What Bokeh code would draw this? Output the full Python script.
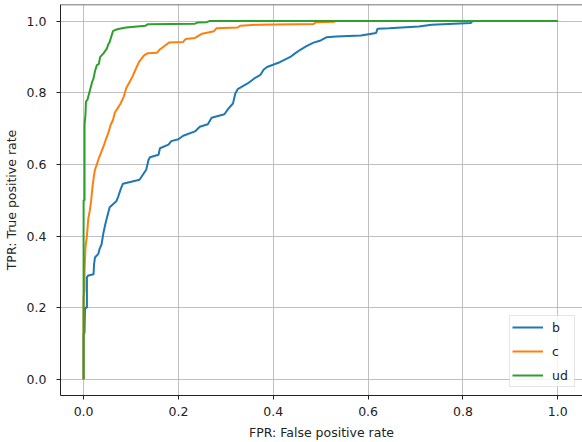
from bokeh.plotting import figure
from bokeh.models import Range1d, FixedTicker, NumeralTickFormatter, Span
from bokeh.embed import file_html
from bokeh.resources import INLINE

# ROC curve points
fpr_b = [0, 0, 0.002, 0.003, 0.007, 0.007, 0.010, 0.021, 0.022, 0.024, 0.031, 0.034, 0.038,
         0.042, 0.047, 0.052, 0.055, 0.069, 0.073, 0.078, 0.083, 0.118, 0.125, 0.132, 0.137,
         0.140, 0.158, 0.161, 0.179, 0.185, 0.200, 0.210, 0.235, 0.245, 0.262, 0.270, 0.297,
         0.305, 0.315, 0.320, 0.325, 0.346, 0.360, 0.373, 0.380, 0.387, 0.415, 0.436, 0.446,
         0.457, 0.470, 0.485, 0.500, 0.513, 0.533, 0.585, 0.617, 0.620, 0.644, 0.707, 0.734,
         0.817, 0.820, 1.0]
tpr_b = [0, 0.127, 0.130, 0.200, 0.200, 0.285, 0.290, 0.293, 0.320, 0.340, 0.350, 0.365, 0.377,
         0.410, 0.440, 0.465, 0.480, 0.497, 0.510, 0.530, 0.546, 0.557, 0.571, 0.585, 0.613,
         0.620, 0.627, 0.645, 0.655, 0.665, 0.670, 0.680, 0.692, 0.705, 0.712, 0.730, 0.740,
         0.755, 0.770, 0.798, 0.810, 0.826, 0.840, 0.850, 0.865, 0.872, 0.886, 0.900, 0.910,
         0.920, 0.930, 0.940, 0.946, 0.955, 0.957, 0.960, 0.967, 0.979, 0.980, 0.985, 0.990,
         0.995, 1.0, 1.0]

fpr_c = [0, 0, 0.002, 0.002, 0.004, 0.007, 0.010, 0.013, 0.016, 0.019, 0.022, 0.024, 0.028,
         0.031, 0.036, 0.042, 0.047, 0.052, 0.057, 0.062, 0.066, 0.071, 0.078, 0.085, 0.090,
         0.097, 0.103, 0.108, 0.113, 0.117, 0.122, 0.128, 0.135, 0.155, 0.160, 0.170, 0.180,
         0.210, 0.215, 0.235, 0.250, 0.275, 0.280, 0.325, 0.330, 0.370, 0.485, 0.490, 0.530,
         0.530, 1.0]
tpr_c = [0, 0.230, 0.250, 0.300, 0.370, 0.400, 0.450, 0.470, 0.500, 0.540, 0.570, 0.585, 0.600,
         0.613, 0.630, 0.650, 0.670, 0.687, 0.710, 0.724, 0.745, 0.755, 0.770, 0.790, 0.813,
         0.830, 0.845, 0.860, 0.875, 0.886, 0.895, 0.905, 0.910, 0.912, 0.920, 0.930, 0.940,
         0.942, 0.950, 0.953, 0.965, 0.972, 0.980, 0.982, 0.987, 0.990, 0.992, 0.997, 0.998,
         1.0, 1.0]

fpr_ud = [0, 0, 0.002, 0.002, 0.004, 0.005, 0.008, 0.012, 0.014, 0.018, 0.021, 0.024, 0.028,
          0.032, 0.035, 0.042, 0.049, 0.052, 0.055, 0.058, 0.062, 0.068, 0.073, 0.090, 0.130,
          0.135, 0.235, 0.240, 0.260, 0.265, 1.0]
tpr_ud = [0, 0.500, 0.500, 0.710, 0.740, 0.775, 0.780, 0.800, 0.810, 0.830, 0.840, 0.860, 0.877,
          0.880, 0.900, 0.910, 0.923, 0.935, 0.942, 0.955, 0.972, 0.976, 0.978, 0.982, 0.987,
          0.991, 0.993, 0.996, 0.997, 1.0, 1.0]

labels = ["b", "c", "ud"]
colors = ["#1f77b4", "#ff7f0e", "#2ca02c"]
ticks = [0.0, 0.2, 0.4, 0.6, 0.8, 1.0]

FONT = "DejaVu Sans"
FS = "12.5px"

Y_TOP = 1.0464
p = figure(width=582, height=442, output_backend="svg", toolbar_location=None,
           x_range=Range1d(-0.0487, 1.0522), y_range=Range1d(-0.0453, Y_TOP),
           min_border_left=56, min_border_right=0, min_border_top=4, min_border_bottom=45)

for fx, ty, lab, col in zip([fpr_b, fpr_c, fpr_ud], [tpr_b, tpr_c, tpr_ud], labels, colors):
    p.line(fx, ty, line_color=col, line_width=2, legend_label=lab)

for ax in (p.xaxis[0], p.yaxis[0]):
    ax.ticker = FixedTicker(ticks=ticks)
    ax.formatter = NumeralTickFormatter(format="0.0")
    ax.major_label_text_font = FONT
    ax.major_label_text_font_size = FS
    ax.major_label_text_color = "#222222"
    ax.axis_label_text_font = FONT
    ax.axis_label_text_font_size = FS
    ax.axis_label_text_font_style = "normal"
    ax.axis_label_text_color = "#222222"
    ax.major_tick_out = 4
    ax.major_tick_in = 0
    ax.minor_tick_line_color = None
    ax.major_tick_line_color = "#222222"
    ax.axis_line_color = "#222222"

p.xaxis.major_label_standoff = 7
p.xaxis.axis_label_standoff = 6
p.yaxis.major_label_standoff = 10
p.yaxis.axis_label_standoff = 5

p.xaxis.axis_label = "FPR: False positive rate"
p.yaxis.axis_label = "TPR: True positive rate"

p.grid.grid_line_color = "#b0b0b0"
p.grid.grid_line_width = 1
p.grid.grid_line_alpha = 0.8
p.outline_line_color = None
p.add_layout(Span(location=Y_TOP, dimension="width", line_color="#444444", line_width=1.5))

leg = p.legend[0]
leg.location = (449, 8)
leg.margin = 0
leg.padding = 2
leg.spacing = 6
leg.glyph_width = 31
leg.glyph_height = 18
leg.label_height = 18
leg.label_standoff = 9
leg.label_text_font = FONT
leg.label_text_font_size = FS
leg.label_text_color = "#222222"
leg.border_line_color = "#cccccc"
leg.background_fill_alpha = 0.8

open("out.html", "w").write(file_html(p, INLINE))
